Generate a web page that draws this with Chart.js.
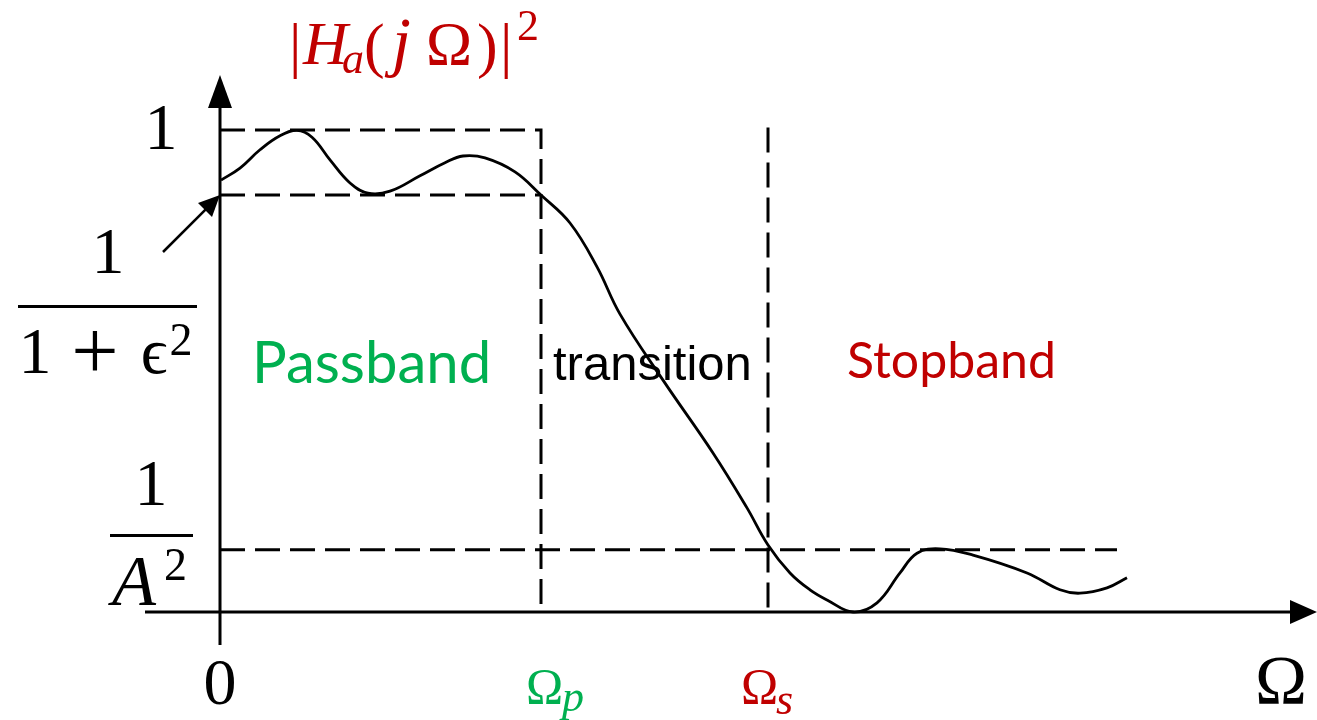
<!DOCTYPE html>
<html>
<head>
<meta charset="utf-8">
<script src="https://cdn.jsdelivr.net/npm/chart.js@4.4.0/dist/chart.umd.min.js"></script>
<style>
  html, body { margin: 0; padding: 0; background: #fff; overflow: hidden; }
</style>
</head>
<body>
<canvas id="filterChart" width="1317" height="720"></canvas>
<script>
// frequency axis (arbitrary units) and |Ha(jΩ)|²
let freq = [0.01, 0.20, 0.40, 0.60, 0.77, 0.92, 1.10, 1.30, 1.48, 1.70, 2.00, 2.25, 2.43, 2.65, 2.95, 3.21,
            3.50, 3.77, 4.00, 4.43, 4.93, 5.27, 5.48, 5.70, 5.90, 6.07, 6.33, 6.57, 6.80, 6.97, 7.20, 7.53, 8.07,
            8.40, 8.60, 8.87, 9.07];
let gain = [0.896, 0.921, 0.959, 0.988, 0.999, 0.985, 0.938, 0.890, 0.869, 0.873, 0.905, 0.932, 0.946, 0.942, 0.913, 0.865,
            0.807, 0.716, 0.618, 0.481, 0.330, 0.216, 0.139, 0.081, 0.046, 0.025, 0.000, 0.019, 0.081, 0.122, 0.131, 0.118, 0.081,
            0.046, 0.039, 0.050, 0.071];

// edges of the bands
let edgeFreq = [3.21, 5.48];          // Ωp, Ωs
let edgeGain = [1, 0.865, 0.129];     // 1, 1/(1+ε²), 1/A²
let stopLineEnd = 8.97;
let bandLabels = ['Passband', 'transition', 'Stopband'];
let xTickLabels = ['0', 'Ω', 'Ω', 'Ω'];
let xTickSubs = ['', 'p', 's', ''];

let green = '#00B050';
let red = '#C00000';

let dash = [25, 10];
function dashed(points) {
    return {
        data: points,
        showLine: true,
        borderColor: '#000',
        borderWidth: 3,
        borderDash: dash,
        pointRadius: 0,
        tension: 0
    };
}

let curve = freq.map((f, i) => ({ x: f, y: gain[i] }));

let datasets = [
    {
        data: curve,
        showLine: true,
        borderColor: '#000',
        borderWidth: 2.8,
        pointRadius: 0,
        tension: 0.4
    },
    dashed([{ x: 0, y: edgeGain[0] }, { x: edgeFreq[0], y: edgeGain[0] }, { x: edgeFreq[0], y: 0 }]),
    dashed([{ x: 0, y: edgeGain[1] }, { x: edgeFreq[0], y: edgeGain[1] }]),
    dashed([{ x: edgeFreq[1], y: 1.005 }, { x: edgeFreq[1], y: 0 }]),
    dashed([{ x: 0, y: edgeGain[2] }, { x: stopLineEnd, y: edgeGain[2] }])
];

function put(ctx, parts) {
    parts.forEach(p => {
        ctx.font = p.font;
        ctx.fillText(p.t, p.x, p.y);
    });
}

let serif = '"Liberation Serif", "DejaVu Serif", serif';

let annotations = {
    id: 'annotations',
    afterDraw(chart) {
        let ctx = chart.ctx;
        let xs = chart.scales.x, ys = chart.scales.y;
        let x0 = xs.getPixelForValue(0), y0 = ys.getPixelForValue(0);
        let area = chart.chartArea;
        ctx.save();

        // axes with arrow heads
        ctx.strokeStyle = '#000';
        ctx.fillStyle = '#000';
        ctx.lineWidth = 3;
        ctx.setLineDash([]);
        ctx.beginPath();
        ctx.moveTo(area.left, y0);
        ctx.lineTo(area.right - 20, y0);
        ctx.moveTo(x0, area.bottom);
        ctx.lineTo(x0, area.top + 30);
        ctx.stroke();
        ctx.beginPath();
        ctx.moveTo(area.right, y0);
        ctx.lineTo(area.right - 27, y0 - 12);
        ctx.lineTo(area.right - 27, y0 + 12);
        ctx.closePath();
        ctx.fill();
        ctx.beginPath();
        ctx.moveTo(x0, area.top + 3);
        ctx.lineTo(x0 - 12, area.top + 36);
        ctx.lineTo(x0 + 12, area.top + 36);
        ctx.closePath();
        ctx.fill();

        // pointer to 1/(1+ε²)
        let py = ys.getPixelForValue(edgeGain[1]);
        ctx.lineWidth = 2.5;
        ctx.beginPath();
        ctx.moveTo(163, 252);
        ctx.lineTo(x0 - 10, py + 10);
        ctx.stroke();
        ctx.beginPath();
        ctx.moveTo(x0, py);
        ctx.lineTo(x0 - 8, py + 22);
        ctx.lineTo(x0 - 22, py + 8);
        ctx.closePath();
        ctx.fill();

        // title |Ha(jΩ)|²
        ctx.fillStyle = red;
        ctx.textBaseline = 'alphabetic';
        ctx.textAlign = 'left';
        put(ctx, [
            { t: '|', x: 289, y: 66, font: '62px ' + serif },
            { t: 'H', x: 303, y: 64, font: 'italic 62px ' + serif },
            { t: 'a', x: 342, y: 73, font: 'italic 44px ' + serif },
            { t: '(', x: 364, y: 66, font: '62px ' + serif },
            { t: 'j', x: 392, y: 64, font: 'italic 68px ' + serif },
            { t: 'Ω', x: 426, y: 64, font: '62px ' + serif },
            { t: ')', x: 477, y: 66, font: '62px ' + serif },
            { t: '|', x: 500, y: 66, font: '62px ' + serif },
            { t: '2', x: 517, y: 40, font: '44px ' + serif }
        ]);

        // y tick labels
        ctx.fillStyle = '#000';
        ctx.textAlign = 'center';
        ctx.font = '66px ' + serif;
        ctx.fillText('1', 161, ys.getPixelForValue(edgeGain[0]) + 19);

        ctx.fillText('1', 108, 273);
        ctx.fillRect(18, 305, 179, 3);
        put(ctx, [
            { t: '1', x: 35, y: 373, font: '66px ' + serif },
            { t: '+', x: 95, y: 379, font: '84px ' + serif },
            { t: 'ϵ', x: 154, y: 373, font: '66px ' + serif },
            { t: '2', x: 181, y: 355, font: '46px ' + serif }
        ]);

        ctx.font = '66px ' + serif;
        ctx.fillText('1', 151, 505);
        ctx.fillRect(110, 534, 83, 3);
        ctx.textAlign = 'left';
        put(ctx, [
            { t: 'A', x: 112, y: 605, font: 'italic 72px ' + serif },
            { t: '2', x: 164, y: 580, font: '46px ' + serif }
        ]);

        // x tick labels
        ctx.font = '66px ' + serif;
        ctx.textAlign = 'center';
        ctx.fillText(xTickLabels[0], x0, 704);
        ctx.textAlign = 'left';
        let xp = xs.getPixelForValue(edgeFreq[0]);
        let xsP = xs.getPixelForValue(edgeFreq[1]);
        ctx.fillStyle = green;
        put(ctx, [
            { t: xTickLabels[1], x: xp - 15, y: 703, font: '50px ' + serif },
            { t: xTickSubs[1], x: xp + 21, y: 711, font: 'italic 44px ' + serif }
        ]);
        ctx.fillStyle = red;
        put(ctx, [
            { t: xTickLabels[2], x: xsP - 27, y: 703, font: '50px ' + serif },
            { t: xTickSubs[2], x: xsP + 8, y: 714, font: 'italic 44px ' + serif }
        ]);
        ctx.fillStyle = '#000';
        ctx.font = '70px ' + serif;
        ctx.fillText(xTickLabels[3], 1255, 704);

        // band labels
        ctx.fillStyle = green;
        ctx.font = '58px Lato, "Open Sans", sans-serif';
        ctx.fillText(bandLabels[0], 252, 383);
        ctx.fillStyle = '#000';
        ctx.font = '49px "Liberation Sans", Arial, sans-serif';
        ctx.fillText(bandLabels[1], 553, 380);
        ctx.fillStyle = red;
        ctx.font = '50px Lato, "Open Sans", sans-serif';
        ctx.fillText(bandLabels[2], 847, 378);

        ctx.restore();
    }
};

let ctx = document.getElementById('filterChart').getContext('2d');

let myChart = new Chart(ctx, {
    type: 'scatter',
    data: { datasets: datasets },
    options: {
        responsive: false,
        animation: false,
        devicePixelRatio: 1,
        layout: { padding: { left: 145, right: 0, top: 72, bottom: 75 } },
        plugins: { legend: { display: false }, tooltip: { enabled: false } },
        scales: {
            x: { type: 'linear', min: -0.75, max: 10.97, display: false },
            y: { type: 'linear', min: -0.0685, max: 1.1203, display: false }
        }
    },
    plugins: [annotations]
});
</script>
</body>
</html>
